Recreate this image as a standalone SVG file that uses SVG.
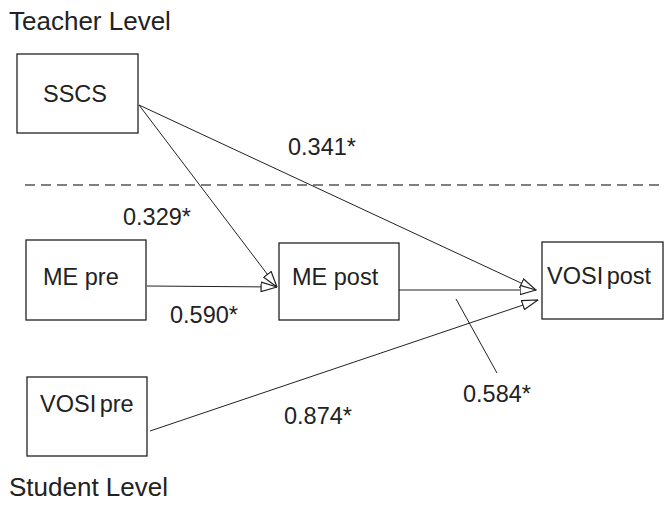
<svg xmlns="http://www.w3.org/2000/svg" width="665" height="506" viewBox="0 0 665 506">
<defs>
<style>
text{font-family:"Liberation Sans",Arial,sans-serif;font-size:23.5px;fill:#222}
.lvl{font-size:26px}
.box{fill:#fff;stroke:#222;stroke-width:1.3}
.edge{stroke:#222;stroke-width:1;fill:none;marker-end:url(#arr)}
.lead{stroke:#222;stroke-width:1;fill:none}
</style>
<marker id="arr" viewBox="0 0 17 11" refX="16.5" refY="5.5" markerWidth="17" markerHeight="11" markerUnits="userSpaceOnUse" orient="auto">
<path d="M0.6,0.8 L16.5,5.5 L0.6,10.2 Z" fill="#fff" stroke="#222" stroke-width="1.2"/>
</marker>
</defs>
<rect width="665" height="506" fill="#fff"/>
<text class="lvl" x="9" y="30">Teacher Level</text>
<text class="lvl" x="9" y="496">Student Level</text>
<line x1="25" y1="185" x2="665" y2="185" stroke="#555" stroke-width="1.6" stroke-dasharray="10,6"/>
<g id="connectors">
<line class="edge" x1="139" y1="105" x2="277" y2="287"/>
<line class="edge" x1="147" y1="286" x2="277" y2="287"/>
<line class="edge" x1="139" y1="105" x2="536" y2="290"/>
<line class="edge" x1="399" y1="290" x2="536" y2="290"/>
<line class="edge" x1="150" y1="431" x2="538" y2="300"/>
<line class="lead" x1="456" y1="299" x2="497" y2="373"/>
<text x="288" y="155">0.341*</text>
<text x="123" y="225">0.329*</text>
<text x="170" y="323">0.590*</text>
<text x="463" y="402">0.584*</text>
<text x="284" y="424">0.874*</text>
</g>
<g id="sscs"><rect class="box" x="17" y="54" width="121" height="79"/><text x="43" y="102">SSCS</text></g>
<g id="me-pre"><rect class="box" x="26" y="240" width="120" height="80"/><text x="43" y="285">ME pre</text></g>
<g id="me-post"><rect class="box" x="279" y="243" width="120" height="77"/><text x="292" y="285">ME post</text></g>
<g id="vosi-post"><rect class="box" x="542" y="242" width="121" height="77"/><text x="547" y="284" word-spacing="-3">VOSI post</text></g>
<g id="vosi-pre"><rect class="box" x="27" y="377" width="120" height="79"/><text x="40" y="412" word-spacing="-3">VOSI pre</text></g>
</svg>
